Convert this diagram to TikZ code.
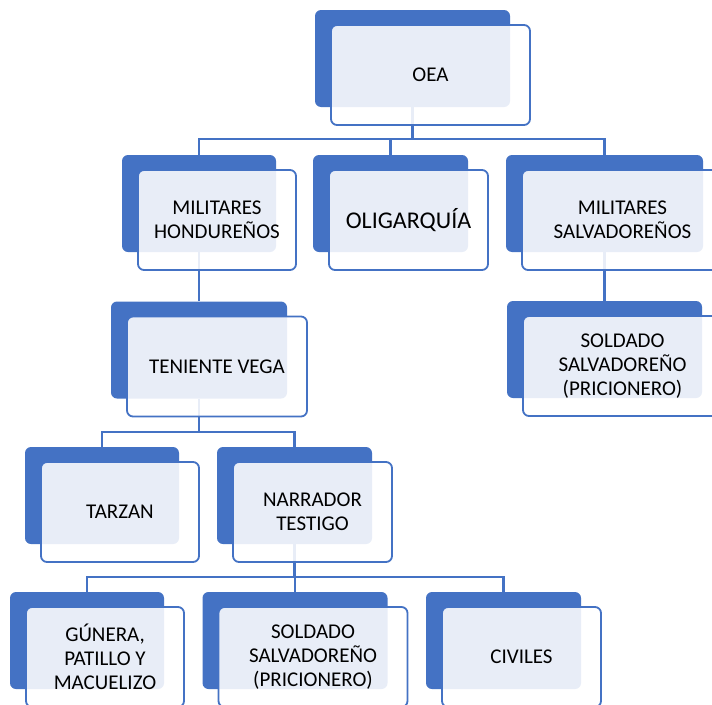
\documentclass[tikz,border=0pt]{standalone}
\usepackage{fontspec}
\setmainfont{Carlito}
\usepackage{tikz}
\usepackage{xcolor}
\usetikzlibrary{calc}
\usetikzlibrary{backgrounds}
\usetikzlibrary{positioning}
\definecolor{boxblue}{HTML}{4472C4}

\begin{document}
\begin{tikzpicture}[x=1pt, y=-1pt, font=\fontsize{21}{24}\selectfont]
		\tikzstyle{back}=[rectangle, fill=boxblue, rounded corners=6pt, minimum height=97pt, inner sep=0pt]
		\tikzstyle{front}=[rectangle, draw=boxblue, line width=1.8pt, fill=white, fill opacity=0.88, text opacity=1, text=black, rounded corners=6pt, minimum height=100pt, inner sep=0pt, align=center]
		\tikzstyle{link}=[draw=boxblue, line width=2.2pt]
		
		\useasboundingbox (0,0) rectangle (712,704);
		
		% top level
		\node[back, minimum width=195pt] (oeaB) at (412.5,58.5) {};
		\node[front, minimum width=199pt] (oea) at ($(oeaB)+(18,16.5)$) {OEA};
		
		% second level
		\node[back, minimum width=154pt] (mhB) at (199,203.5) {};
		\node[front, minimum width=158pt] (mh) at ($(mhB)+(18,16.5)$) {MILITARES\\HONDUREÑOS};
		\node[back, minimum width=155pt] (oligB) at (390.5,203.5) {};
		\node[front, minimum width=159pt, font=\fontsize{24}{28}\selectfont] (olig) at ($(oligB)+(18,16.5)$) {OLIGARQUÍA};
		\node[back, minimum width=197pt] (msB) at (604.5,203.5) {};
		\node[front, minimum width=201pt] (ms) at ($(msB)+(18,16.5)$) {MILITARES\\SALVADOREÑOS};
		
		% third level
		\node[back, minimum width=176pt] (tvB) at (199,350) {};
		\node[front, minimum width=180pt] (tv) at ($(tvB)+(18,16.5)$) {TENIENTE VEGA};
		\node[back, minimum width=195pt] (ssB) at (604.5,349.5) {};
		\node[front, minimum width=199pt] (ss) at ($(ssB)+(18,16.5)$) {SOLDADO\\SALVADOREÑO\\(PRICIONERO)};
		
		% fourth level
		\node[back, minimum width=154pt] (tarzanB) at (102,495.5) {};
		\node[front, minimum width=158pt] (tarzan) at ($(tarzanB)+(18,16.5)$) {TARZAN};
		\node[back, minimum width=155pt] (narrB) at (294.5,495.5) {};
		\node[front, minimum width=159pt] (narr) at ($(narrB)+(18,16.5)$) {NARRADOR\\TESTIGO};
		
		% fifth level
		\node[back, minimum width=154pt] (gunB) at (87,640.5) {};
		\node[front, minimum width=158pt] (gun) at ($(gunB)+(18,16.5)$) {GÚNERA,\\PATILLO Y\\MACUELIZO};
		\node[back, minimum width=185pt] (soldB) at (295,640.5) {};
		\node[front, minimum width=189pt] (sold) at ($(soldB)+(18,16.5)$) {SOLDADO\\SALVADOREÑO\\(PRICIONERO)};
		\node[back, minimum width=155pt] (civB) at (503.5,640.5) {};
		\node[front, minimum width=159pt] (civ) at ($(civB)+(18,16.5)$) {CIVILES};
		
		\coordinate (busA) at ($(oeaB.south)+(0,32)$);
		\coordinate (busB) at ($(tvB.south)+(0,33)$);
		\coordinate (busC) at ($(narrB.south)+(0,33)$);
		
		\begin{scope}[on background layer]
			\fill[white] (0,0) rectangle (712,704);
			\draw[link] (oeaB.south) -- (busA) -| (mhB.north);
			\draw[link] (busA) -| (oligB.north);
			\draw[link] (busA) -| (msB.north);
			\draw[link] (mhB.south) -- (tvB.north);
			\draw[link] (msB.south) -- (ssB.north);
			\draw[link] (tvB.south) -- (busB) -| (tarzanB.north);
			\draw[link] (busB) -| (narrB.north);
			\draw[link] (narrB.south) -- (busC) -| (gunB.north);
			\draw[link] (busC) -| (soldB.north);
			\draw[link] (busC) -| (civB.north);
		\end{scope}
	\end{tikzpicture}
\end{document}
